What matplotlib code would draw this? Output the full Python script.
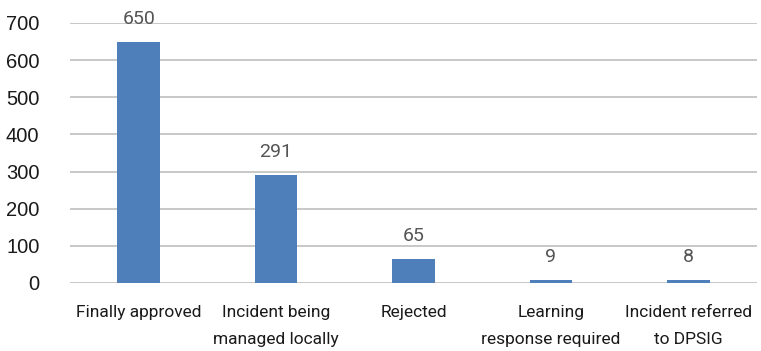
import matplotlib.pyplot as plt

categories = ["Finally approved", "Incident being\nmanaged locally", "Rejected",
              "Learning\nresponse required", "Incident referred\nto DPSIG"]
counts = [650, 291, 65, 9, 8]
y_ticks = [0, 100, 200, 300, 400, 500, 600, 700]

fig = plt.figure(figsize=(7.61, 3.51), dpi=100)
ax = fig.add_axes([70 / 761, 68 / 351, 687 / 761, 260 / 351])

x = range(len(categories))
bars = ax.bar(x, counts, width=0.31, color="#4f7fba", zorder=3)

ax.set_xlim(-0.5, len(categories) - 0.5)
ax.set_ylim(0, 700)
ax.set_yticks(y_ticks)
ax.set_yticklabels([str(t) for t in y_ticks], fontsize=14.5, family="Liberation Sans", color="#1a1a1a")
ax.set_xticks(list(x))
ax.set_xticklabels(categories, fontsize=12.5, family="Roboto", color="#1a1a1a", linespacing=1.95)
ax.tick_params(axis="both", length=0)
ax.tick_params(axis="y", pad=22)
ax.tick_params(axis="x", pad=16)

ax.grid(axis="y", color="#c8c8c8", linewidth=1.4, zorder=0)
for s in ax.spines.values():
    s.set_visible(False)

for b, v in zip(bars, counts):
    ax.annotate(str(v), (b.get_x() + b.get_width() / 2, v), xytext=(0, 10),
                textcoords="offset points", ha="center", va="bottom",
                fontsize=14, family="Roboto", color="#555555", annotation_clip=False)

fig.savefig("out.png", dpi=100, facecolor="white")
